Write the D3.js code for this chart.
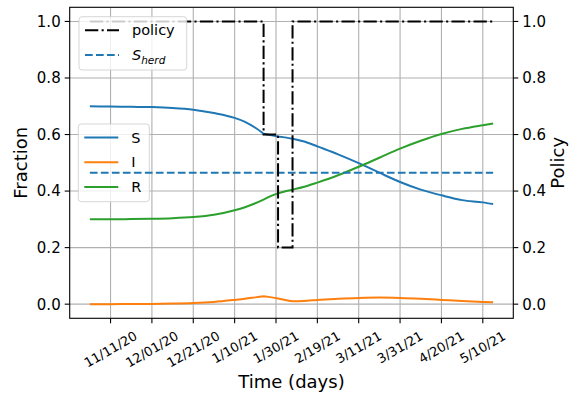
<!DOCTYPE html>
<html><head><meta charset="utf-8">
<script src="https://cdn.jsdelivr.net/npm/d3@7"></script>
<style>body{margin:0;background:#fff}svg{display:block;font-family:"DejaVu Sans",sans-serif}</style>
</head><body><svg id="c" width="575" height="399"></svg>
<script>
// ---- data ----
const days = [0,10,20,30,40,50,60,70,75,80,84,88,91,95,98,105,110,120,130,140,150,160,170,180,190,195];
const S = [0.700,0.699,0.698,0.697,0.694,0.688,0.676,0.659,0.645,0.624,0.603,0.597,0.593,0.589,0.585,0.572,0.558,0.530,0.499,0.465,0.432,0.405,0.385,0.368,0.360,0.354];
const I = [0.000,0.000,0.001,0.001,0.002,0.004,0.008,0.015,0.019,0.024,0.028,0.024,0.020,0.014,0.010,0.012,0.015,0.019,0.022,0.0235,0.022,0.019,0.015,0.011,0.008,0.007];
const R = [0.300,0.300,0.301,0.302,0.304,0.308,0.316,0.332,0.343,0.357,0.370,0.384,0.392,0.400,0.405,0.418,0.430,0.456,0.486,0.518,0.550,0.578,0.602,0.620,0.633,0.639];
const policyDays = [0,84,84,91,91,98,98,195];
const policyVals = [1,1,0.6,0.6,0.2,0.2,1,1];
const sHerd = 0.465;
const xTickDays = [10,30,50,70,90,110,130,150,170,190];
const xTickLabels = ["11/11/20","12/01/20","12/21/20","1/10/21","1/30/21","2/19/21","3/11/21","3/31/21","4/20/21","5/10/21"];
const yTicks = [0,0.2,0.4,0.6,0.8,1.0];

const svg = d3.select("#c");
const L=69.7, Rr=513.3, T=7.3, B=318.3;
const x = d3.scaleLinear().domain([-9.75,204.75]).range([L,Rr]);
const y = d3.scaleLinear().domain([-0.05,1.05]).range([B,T]);
const y2 = d3.scaleLinear().domain([-0.05,1.05]).range([B,T]);
const grid="#b0b0b0";

// grid
const g = svg.append("g");
xTickDays.forEach(d=>g.append("line").attr("x1",x(d)).attr("x2",x(d)).attr("y1",T).attr("y2",B).attr("stroke",grid).attr("stroke-width",1.1));
yTicks.forEach(v=>g.append("line").attr("x1",L).attr("x2",Rr).attr("y1",y(v)).attr("y2",y(v)).attr("stroke",grid).attr("stroke-width",1.1));

// smooth segments between policy switch days (kinks kept at switches)
const breaks=[84,91,98];
function seriesPath(arr){
  const pts=days.map((d,i)=>[d,arr[i]]);
  const segs=[]; let cur=[];
  pts.forEach(p=>{cur.push(p); if(breaks.includes(p[0])){segs.push(cur); cur=[p];}});
  segs.push(cur);
  const ln=d3.line().x(p=>x(p[0])).y(p=>y(p[1])).curve(d3.curveMonotoneX);
  return segs.map(s=>ln(s)).join("");
}
const series=[["S",S,"#1f77b4"],["I",I,"#ff7f0e"],["R",R,"#2ca02c"]];
series.forEach(([n,a,c])=>svg.append("path").attr("d",seriesPath(a)).attr("fill","none").attr("stroke",c).attr("stroke-width",2).attr("stroke-linejoin","round"));

function legend(x0,y0,w,h,items){
  const lg=svg.append("g");
  lg.append("rect").attr("x",x0).attr("y",y0).attr("width",w).attr("height",h).attr("rx",3)
    .attr("fill","rgba(255,255,255,0.8)").attr("stroke","rgba(204,204,204,0.8)").attr("stroke-width",1);
  items.forEach((it,i)=>{
    const yy=y0+13.5+i*24.7;
    lg.append("line").attr("x1",x0+6).attr("x2",x0+40).attr("y1",yy).attr("y2",yy).attr("stroke",it.c).attr("stroke-width",2).attr("stroke-dasharray",it.dash||null);
    const t=lg.append("text").attr("x",x0+53).attr("y",yy).attr("dy","0.36em").attr("font-size",14.5).attr("fill","#000");
    it.f(t);
  });
}
legend(78.3,124,71,77.7,[
  {c:"#1f77b4",f:t=>t.text("S")},
  {c:"#ff7f0e",f:t=>t.text("I")},
  {c:"#2ca02c",f:t=>t.text("R")}]);

// twin axis content
svg.append("line").attr("x1",x(0)).attr("x2",x(195)).attr("y1",y2(sHerd)).attr("y2",y2(sHerd)).attr("stroke","#1f77b4").attr("stroke-width",2).attr("stroke-dasharray","7.7,3.3");
svg.append("path").attr("d",d3.line().x((d,i)=>x(policyDays[i])).y((d,i)=>y2(policyVals[i]))(policyVals))
  .attr("fill","none").attr("stroke","#000").attr("stroke-width",2).attr("stroke-dasharray","13.3,3.3,2.1,3.3");

legend(79,16.7,107.7,53.3,[
  {c:"#000",dash:"13.3,3.3,2.1,3.3",f:t=>t.text("policy")},
  {c:"#1f77b4",dash:"7.7,3.3",f:t=>{t.append("tspan").attr("font-style","italic").text("S");t.append("tspan").attr("font-style","italic").attr("font-size",10.5).attr("dy","3.5").text("herd");}}]);

// frame
svg.append("rect").attr("x",L).attr("y",T).attr("width",Rr-L).attr("height",B-T).attr("fill","none").attr("stroke","#000").attr("stroke-width",1.1);

// y ticks left & right
yTicks.forEach(v=>{
  svg.append("line").attr("x1",L-5).attr("x2",L).attr("y1",y(v)).attr("y2",y(v)).attr("stroke","#000").attr("stroke-width",1.1);
  svg.append("text").attr("x",L-9).attr("y",y(v)).attr("dy","0.36em").attr("text-anchor","end").attr("font-size",15).text(v.toFixed(1));
  svg.append("line").attr("x1",Rr).attr("x2",Rr+5).attr("y1",y2(v)).attr("y2",y2(v)).attr("stroke","#000").attr("stroke-width",1.1);
  svg.append("text").attr("x",Rr+9).attr("y",y2(v)).attr("dy","0.36em").attr("text-anchor","start").attr("font-size",15).text(v.toFixed(1));
});
// x ticks
const fs=13, a=Math.PI/6;
xTickDays.forEach((d,i)=>{
  svg.append("line").attr("x1",x(d)).attr("x2",x(d)).attr("y1",B).attr("y2",B+5).attr("stroke","#000").attr("stroke-width",1.1);
  const gg=svg.append("g");
  const t=gg.append("text").attr("text-anchor","middle").attr("dy","0.346em").attr("font-size",fs).text(xTickLabels[i]);
  const w=t.node().getComputedTextLength(), h=fs*1.164;
  const H=w*Math.sin(a)+h*Math.cos(a);
  gg.attr("transform",`translate(${x(d)},${B+5+4.9+H/2}) rotate(-30)`);
});
// axis labels
svg.append("text").attr("x",(L+Rr)/2).attr("y",388).attr("text-anchor","middle").attr("font-size",18).text("Time (days)");
svg.append("text").attr("transform",`translate(27,${(T+B)/2}) rotate(-90)`).attr("text-anchor","middle").attr("font-size",18).text("Fraction");
svg.append("text").attr("transform",`translate(563.5,${(T+B)/2}) rotate(-90)`).attr("text-anchor","middle").attr("font-size",18).text("Policy");
</script></body></html>
